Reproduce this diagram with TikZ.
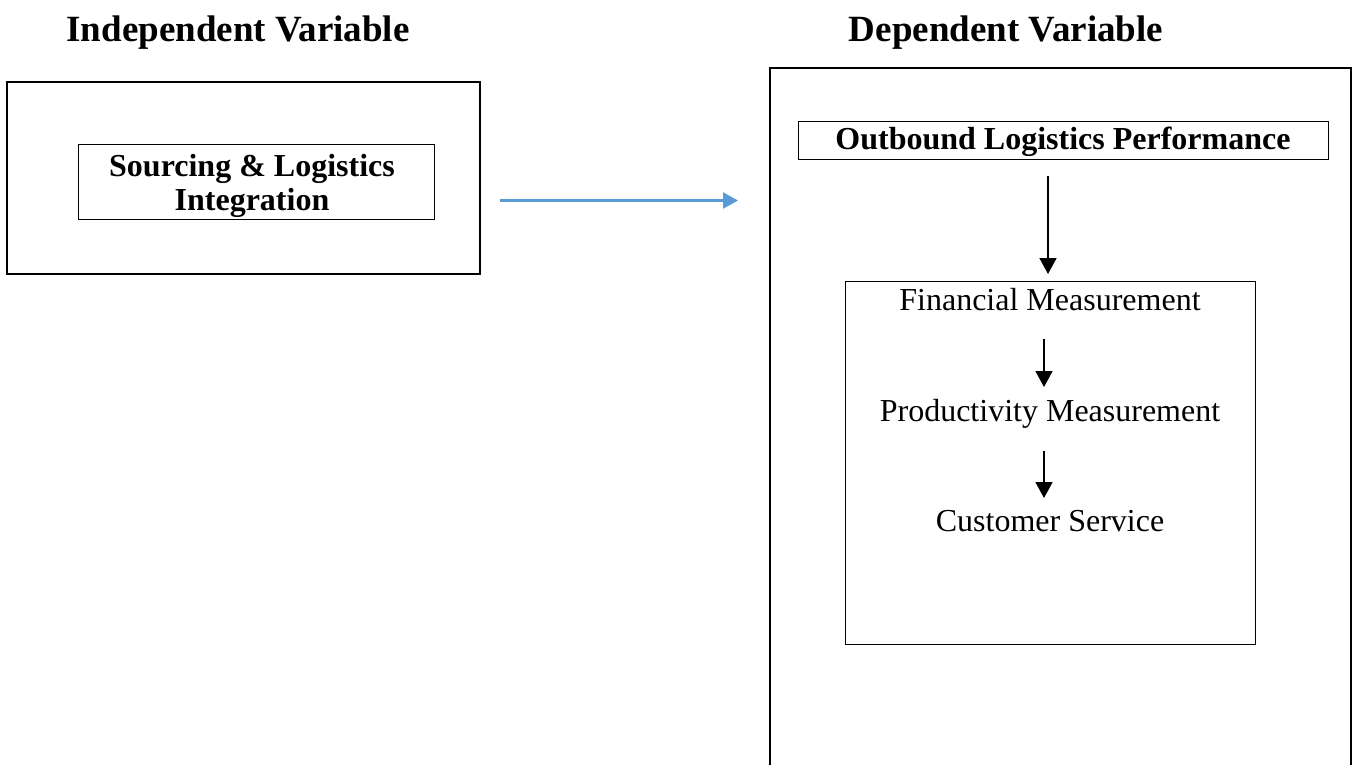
\documentclass[tikz,border=0pt]{standalone}
\usepackage{fontspec}
\setmainfont{Liberation Serif}
\usetikzlibrary{arrows.meta}
\definecolor{arrowblue}{HTML}{5B9BD5}
\tikzset{
  outerbox/.style={draw, line width=1.6pt},
  innerbox/.style={draw, line width=1pt},
  titletext/.style={font=\fontsize{37}{40}\selectfont\bfseries, anchor=base, inner sep=0pt},
  bodytext/.style={font=\fontsize{32}{34}\selectfont, anchor=base, inner sep=0pt},
  boldtext/.style={font=\fontsize{32}{34}\selectfont\bfseries, anchor=base, inner sep=0pt, align=center},
  blackarrow/.style={line width=1.8pt, -{Triangle[width=17pt,length=16pt]}},
  bluearrow/.style={line width=2.2pt, color=arrowblue, -{Triangle[width=16pt,length=15pt]}}
}
\begin{document}
\begin{tikzpicture}[x=1pt,y=-1pt]
\useasboundingbox (0,0) rectangle (1353,765);
\clip (0,0) rectangle (1353,765);
% titles
\node[titletext] (tiv) at (238,42) {Independent Variable};
\node[titletext] (tdv) at (1006,42) {Dependent Variable};
% left boxes
\draw[outerbox] (7,82) rectangle (480,274);
\draw[innerbox] (78,145) rectangle (434,219);
\node[boldtext] (sli1) at (252,177) {Sourcing \& Logistics};
\node[boldtext] (sli2) at (252,211) {Integration};
% blue arrow
\coordinate (ba1) at (500,200.5);
\coordinate (ba2) at (738,200.5);
\draw[bluearrow] (ba1) -- (ba2);
% right boxes
\draw[outerbox] (770,68) rectangle (1351,820);
\draw[innerbox] (798,122) rectangle (1328,160);
\node[boldtext] (olp) at (1063,150) {Outbound Logistics Performance};
\draw[innerbox] (845,281) rectangle (1255,644);
\node[bodytext] (fm) at (1050,310) {Financial Measurement};
\node[bodytext] (pm) at (1050,421) {Productivity Measurement};
\node[bodytext] (cs) at (1050,531) {Customer Service};
% black arrows
\coordinate (k1s) at (1048,176);
\coordinate (k1e) at (1048,274);
\coordinate (k2s) at (1044,339);
\coordinate (k2e) at (1044,387);
\coordinate (k3s) at (1044,451);
\coordinate (k3e) at (1044,498);
\draw[blackarrow] (k1s) -- (k1e);
\draw[blackarrow] (k2s) -- (k2e);
\draw[blackarrow] (k3s) -- (k3e);
\end{tikzpicture}
\end{document}
